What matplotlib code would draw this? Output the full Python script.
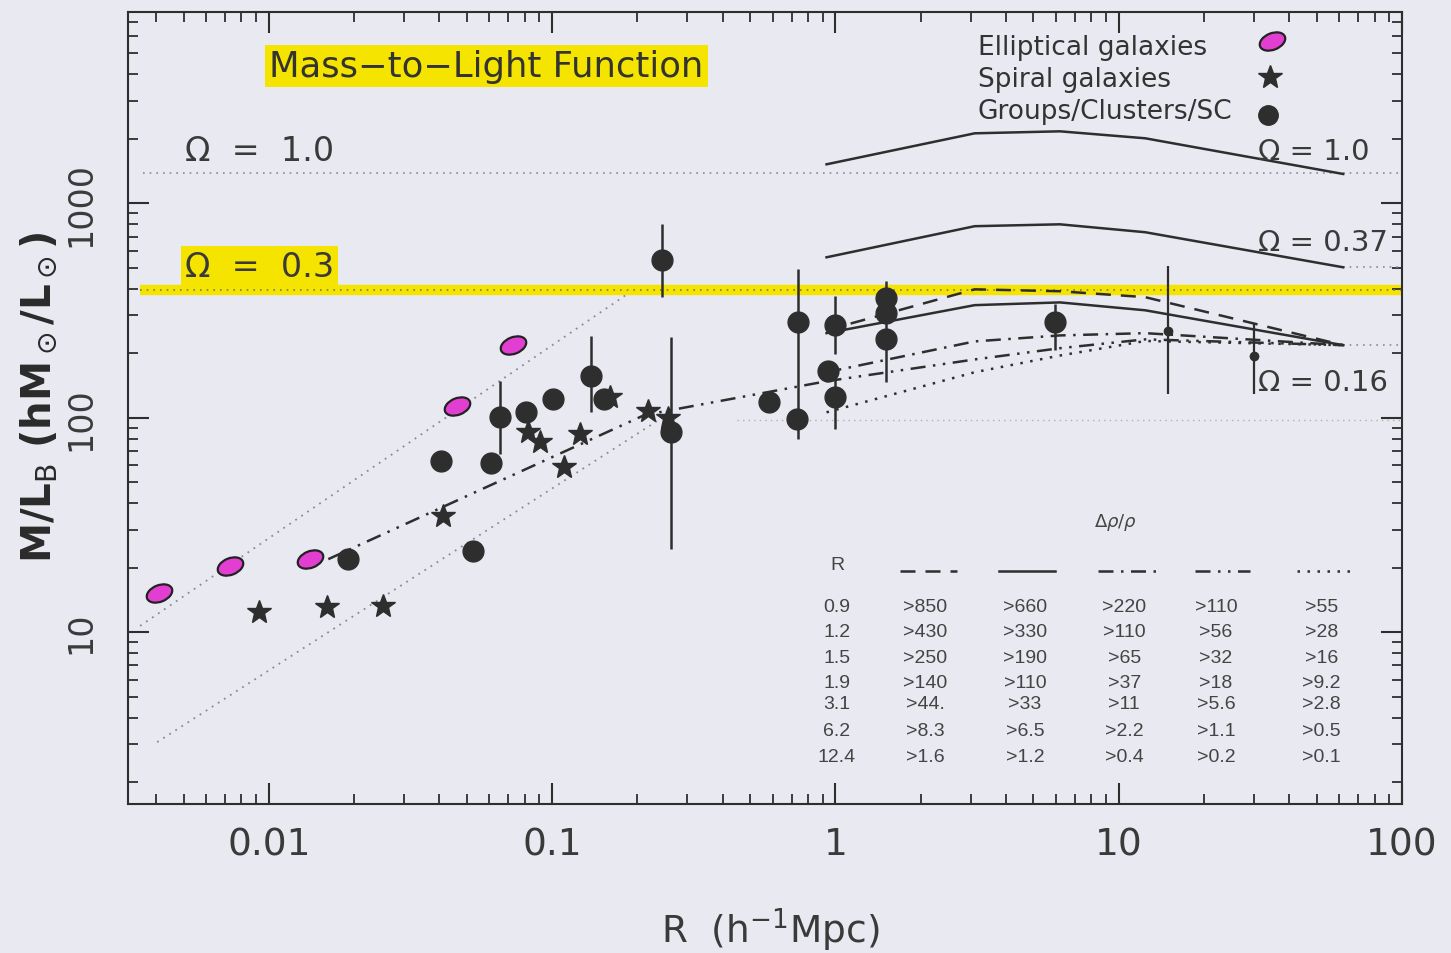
import numpy as np
import matplotlib
matplotlib.use('Agg')
import matplotlib.pyplot as plt
from matplotlib.path import Path
from matplotlib.transforms import Affine2D
from matplotlib.ticker import LogLocator, NullFormatter, FixedLocator, FixedFormatter

# ---------------- data ----------------
# Elliptical galaxies
ell_R = [0.0041, 0.0073, 0.0140, 0.0461, 0.0726]
ell_ML = [15.2, 20.3, 21.9, 113, 218]

# Spiral galaxies
sp_R = [0.0092, 0.0160, 0.0252, 0.0411, 0.0820, 0.0906, 0.110, 0.125, 0.160, 0.218, 0.256]
sp_ML = [12.4, 13.1, 13.2, 34.7, 85.6, 76.9, 58.8, 83.8, 125, 107, 100]

# Groups / Clusters / SC (nan = no error bar)
grp_R = [0.0190, 0.0404, 0.0525, 0.0608, 0.0653, 0.0807, 0.1005, 0.137, 0.152,
         0.244, 0.262, 0.582, 0.736, 0.733, 1.00, 0.940, 1.00, 1.51, 1.51, 1.51, 5.95]
grp_ML = [21.9, 62.7, 23.9, 61.4, 100.5, 106, 122, 156, 122,
          542, 85.6, 119, 279, 98.4, 270, 165, 125, 361, 307, 232, 279]
grp_lo = [np.nan, np.nan, np.nan, np.nan, 67.6, np.nan, np.nan, 106, np.nan,
          365, 24.4, np.nan, 79.4, np.nan, 198, np.nan, 88.4, np.nan, np.nan, 146, 208]
grp_hi = [np.nan, np.nan, np.nan, np.nan, 148, np.nan, np.nan, 240, np.nan,
          798, 237, np.nan, 492, np.nan, 368, np.nan, 168, np.nan, np.nan, 433, 338]

# Superclusters (small symbols)
sc_R = [14.9, 30.0]
sc_ML = [253, 194]
sc_lo = [129, 129]
sc_hi = [508, 273]

# Omega reference levels
om10_level = 1390
om03_level = 393
om037_level = 503
om016_level = 218
faint_level = 98

# Omega = 1.0 and 0.37 curves
curve_R = [0.93, 3.1, 6.2, 12.4, 62]
om10_curve = [1520, 2120, 2166, 2010, 1370]
om037_curve = [560, 782, 798, 733, 503]

# Omega = 0.16 curves for different density contrasts
c_dashed = [256, 397, 389, 365, 218]
c_solid = [248, 335, 345, 317, 218]
c_dashdot = [163, 227, 242, 248, 218]
c_dashdotdot = [148, 187, 211, 232, 218]
c_dotted = [106, 163, 195, 228, 218]

# galaxy-scale fit (dash-dot-dot) and diagonal dotted lines
fit_R = [0.0162, 0.212, 0.93]
fit_ML = [21.9, 103, 148]
diagU_R = [0.00351, 0.184]
diagU_ML = [10.7, 377]
diagL_R = [0.00403, 0.240]
diagL_ML = [3.07, 98.4]

# Table
tab_R = ['0.9', '1.2', '1.5', '1.9', '3.1', '6.2', '12.4']
tab_dashed = ['>850', '>430', '>250', '>140', '>44.', '>8.3', '>1.6']
tab_solid = ['>660', '>330', '>190', '>110', '>33', '>6.5', '>1.2']
tab_dashdot = ['>220', '>110', '>65', '>37', '>11', '>2.2', '>0.4']
tab_dashdotdot = ['>110', '>56', '>32', '>18', '>5.6', '>1.1', '>0.2']
tab_dotted = ['>55', '>28', '>16', '>9.2', '>2.8', '>0.5', '>0.1']

legend_labels = ['Elliptical galaxies', 'Spiral galaxies', 'Groups/Clusters/SC']

xticks = [0.01, 0.1, 1, 10, 100]
xticklabels = ['0.01', '0.1', '1', '10', '100']
yticks = [10, 100, 1000]
yticklabels = ['10', '100', '1000']

# ---------------- style ----------------
BG = '#e9e9f1'
INK = '#2e2e2e'
GRAY = '#8a8a90'
YEL = '#f4e400'
MAG = '#e23fd2'
TXT = '#3a3a3a'

LS_DASHED = (0, (6, 4))
LS_DASHDOT = (0, (6, 3, 1, 3))
LS_DASHDOTDOT = (0, (6, 3, 1, 3, 1, 3))
LS_DOTTED = (0, (1, 3))

plt.rcParams['font.family'] = ['DejaVu Sans']

fig = plt.figure(figsize=(14.51, 9.54), dpi=100, facecolor=BG)
ax = fig.add_axes([0.08821, 0.15618, 0.87802, 0.83019])
ax.set_facecolor(BG)
ax.set_xscale('log')
ax.set_yscale('log')
ax.set_xlim(0.00318, 100)
ax.set_ylim(1.58, 7800)

# horizontal reference lines
ax.hlines(om03_level, 0.0035, 100, color=YEL, lw=7.5, zorder=1)
ax.hlines(om03_level, 0.0035, 100, color='#7a7a60', lw=1.2, linestyles=[LS_DOTTED], zorder=2)
ax.hlines(om10_level, 0.00359, 100, color=GRAY, lw=1.2, linestyles=[LS_DOTTED], zorder=2)
ax.hlines(om037_level, 62, 100, color=GRAY, lw=1.2, linestyles=[LS_DOTTED], zorder=2)
ax.hlines(om016_level, 62, 100, color=GRAY, lw=1.2, linestyles=[LS_DOTTED], zorder=2)
ax.hlines(faint_level, 0.45, 100, color='#b0b0b8', lw=1.0, linestyles=[LS_DOTTED], zorder=1)

# diagonal dotted lines
ax.plot(diagU_R, diagU_ML, color=GRAY, lw=1.3, ls=LS_DOTTED, zorder=2)
ax.plot(diagL_R, diagL_ML, color=GRAY, lw=1.3, ls=LS_DOTTED, zorder=2)

# galaxy fit
ax.plot(fit_R, fit_ML, color=INK, lw=1.8, ls=LS_DASHDOTDOT, zorder=3)

# model curves
ax.plot(curve_R, om10_curve, color=INK, lw=1.8, zorder=3)
ax.plot(curve_R, om037_curve, color=INK, lw=1.8, zorder=3)
ax.plot(curve_R, c_dashed, color=INK, lw=1.8, ls=LS_DASHED, zorder=3)
ax.plot(curve_R, c_solid, color=INK, lw=1.8, zorder=3)
ax.plot(curve_R, c_dashdot, color=INK, lw=1.8, ls=LS_DASHDOT, zorder=3)
ax.plot(curve_R, c_dashdotdot, color=INK, lw=1.8, ls=LS_DASHDOTDOT, zorder=3)
ax.plot(curve_R, c_dotted, color=INK, lw=1.8, ls=LS_DOTTED, zorder=3)

# error bars
gR = np.array(grp_R); gM = np.array(grp_ML)
glo = np.array(grp_lo); ghi = np.array(grp_hi)
m = ~np.isnan(glo)
ax.vlines(gR[m], glo[m], ghi[m], color=INK, lw=1.8, zorder=4)
ax.vlines(sc_R, sc_lo, sc_hi, color=INK, lw=1.6, zorder=4)

# markers
ell_path = Path.unit_circle().transformed(Affine2D().scale(1.0, 0.62).rotate_deg(22))
ell_kw = dict(ls='none', marker=ell_path, ms=19, mfc=MAG, mec='#222222', mew=1.6)
star_kw = dict(ls='none', marker='*', ms=18, mfc=INK, mec=INK)
circ_kw = dict(ls='none', marker='o', ms=15, mfc=INK, mec=INK)
ax.plot(ell_R, ell_ML, zorder=5, **ell_kw)
ax.plot(sp_R, sp_ML, zorder=5, **star_kw)
ax.plot(grp_R, grp_ML, zorder=5, **circ_kw)
ax.plot(sc_R, sc_ML, ls='none', marker='o', ms=6, mfc=INK, mec=INK, zorder=5)

# axes styling
for s in ax.spines.values():
    s.set_color(INK)
    s.set_linewidth(1.5)
ax.xaxis.set_major_locator(FixedLocator(xticks))
ax.xaxis.set_major_formatter(FixedFormatter(xticklabels))
ax.yaxis.set_major_locator(FixedLocator(yticks))
ax.yaxis.set_major_formatter(FixedFormatter(yticklabels))
ax.xaxis.set_minor_locator(LogLocator(base=10, subs=np.arange(2, 10), numticks=20))
ax.yaxis.set_minor_locator(LogLocator(base=10, subs=np.arange(2, 10), numticks=20))
ax.xaxis.set_minor_formatter(NullFormatter())
ax.yaxis.set_minor_formatter(NullFormatter())
ax.tick_params(which='both', direction='in', top=True, right=True, color=INK)
ax.tick_params(which='major', length=15, width=1.5)
ax.tick_params(which='minor', length=7, width=1.3)
ax.tick_params(axis='x', which='major', labelsize=27, pad=16, labelcolor=TXT)
ax.tick_params(axis='y', which='major', labelsize=24, pad=22, labelcolor=TXT)
for lab in ax.get_yticklabels():
    lab.set_rotation(90)
    lab.set_va('center')

ax.set_xlabel(r'R  (h$^{-1}$Mpc)', fontsize=27, color=TXT)
ax.xaxis.set_label_coords(0.504, -0.128)
ax.set_ylabel(r'M/L$_\mathrm{B}$ (hM$_\odot$/L$_\odot$)', fontsize=29, fontweight='bold', color='#2a2a2a')
ax.yaxis.set_label_coords(-0.054, 0.515)

# annotations
ax.text(0.111, 0.932, 'Mass−to−Light Function', transform=ax.transAxes, fontsize=25.5,
        color='#333333', va='center', ha='left',
        bbox=dict(boxstyle='square,pad=0.12', fc=YEL, ec='none'))
ax.text(0.0447, 0.8245, 'Ω  =  1.0', transform=ax.transAxes, fontsize=24, color=TXT, va='center')
ax.text(0.0447, 0.679, 'Ω  =  0.3', transform=ax.transAxes, fontsize=24, color=TXT, va='center',
        bbox=dict(boxstyle='square,pad=0.12', fc=YEL, ec='none'))
ax.text(0.887, 0.8245, 'Ω = 1.0', transform=ax.transAxes, fontsize=21, color=TXT, va='center')
ax.text(0.887, 0.7096, 'Ω = 0.37', transform=ax.transAxes, fontsize=21, color=TXT, va='center')
ax.text(0.887, 0.533, 'Ω = 0.16', transform=ax.transAxes, fontsize=21, color=TXT, va='center')

# legend (text left-aligned, symbol on the right)
leg_y = [0.956, 0.9154, 0.875]
for lbl, yy in zip(legend_labels, leg_y):
    ax.text(0.667, yy, lbl, transform=ax.transAxes, fontsize=19, color='#333333',
            ha='left', va='center')
ax.plot([0.898], [0.963], transform=ax.transAxes, clip_on=False, **ell_kw)
ax.plot([0.896], [0.918], transform=ax.transAxes, clip_on=False, **star_kw)
ax.plot([0.895], [0.870], transform=ax.transAxes, clip_on=False,
        ls='none', marker='o', ms=14, mfc=INK, mec=INK)

# table
TFS = 14
tfont = ['Liberation Sans', 'DejaVu Sans']
ax.text(0.775, 0.357, r'$\Delta\rho/\rho$', transform=ax.transAxes, fontsize=13,
        color='#444444', ha='center', va='center')
ax.text(0.5565, 0.303, 'R', transform=ax.transAxes, fontsize=TFS, color='#444444',
        ha='center', va='center', family=tfont)
sample_x = [(0.606, 0.651), (0.684, 0.728), (0.761, 0.808), (0.8375, 0.881), (0.9176, 0.9647)]
sample_ls = [LS_DASHED, '-', LS_DASHDOT, LS_DASHDOTDOT, LS_DOTTED]
for (x0, x1), ls in zip(sample_x, sample_ls):
    ax.plot([x0, x1], [0.294, 0.294], transform=ax.transAxes, color=INK, lw=1.8, ls=ls)
col_x = [0.5565, 0.6256, 0.704, 0.782, 0.854, 0.937]
row_y = [0.250, 0.2184, 0.1856, 0.1528, 0.1263, 0.0934, 0.0606]
cols = [tab_R, tab_dashed, tab_solid, tab_dashdot, tab_dashdotdot, tab_dotted]
for cx, col in zip(col_x, cols):
    for ry, s in zip(row_y, col):
        ax.text(cx, ry, s, transform=ax.transAxes, fontsize=TFS, color='#444444',
                ha='center', va='center', family=tfont)

fig.savefig('out.png', dpi=100, facecolor=BG)
